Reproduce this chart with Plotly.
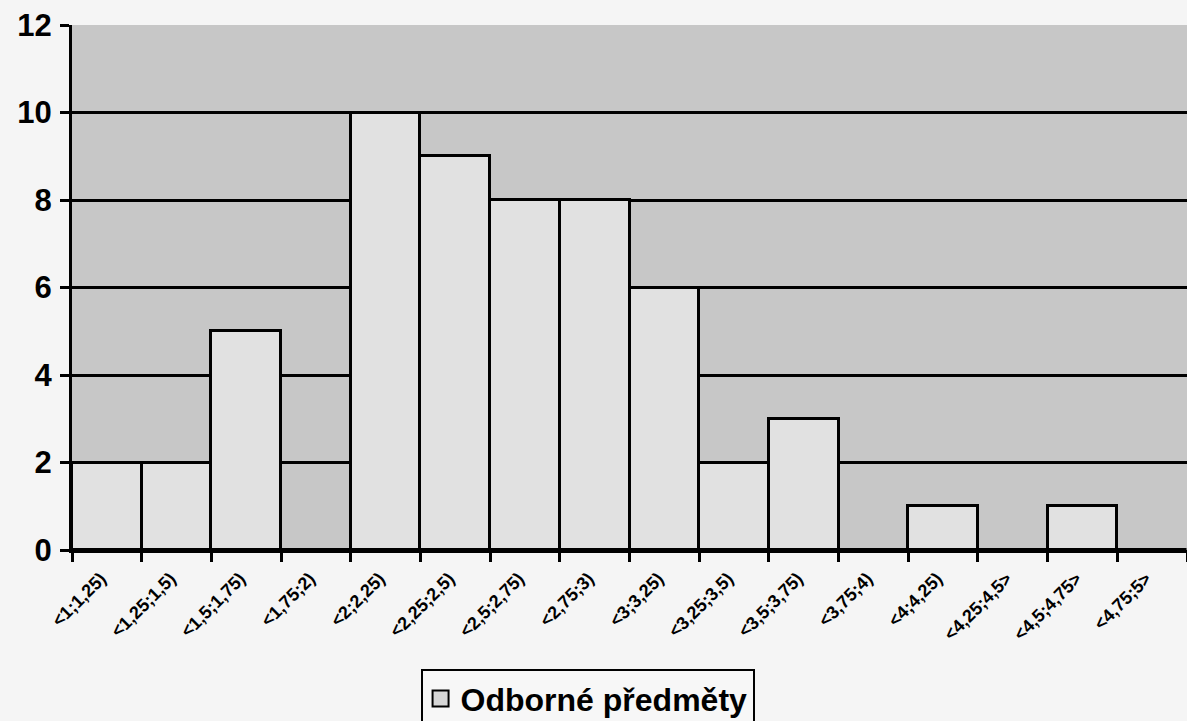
import plotly.graph_objects as go

# Grade intervals and the number of pupils in each
intervals = [
    "<1;1,25)", "<1,25;1,5)", "<1,5;1,75)", "<1,75;2)",
    "<2;2,25)", "<2,25;2,5)", "<2,5;2,75)", "<2,75;3)",
    "<3;3,25)", "<3,25;3,5)", "<3,5;3,75)", "<3,75;4)",
    "<4;4,25)", "<4,25;4,5>", "<4,5;4,75>", "<4,75;5>",
]
counts = [2, 2, 5, 0, 10, 9, 8, 8, 6, 2, 3, 0, 1, 0, 1, 0]
y_ticks = [0, 2, 4, 6, 8, 10, 12]
series_name = "Odborné předměty"

FONT = "Liberation Sans, Arial, sans-serif"
BAR_FILL = "#e1e1e1"

fig = go.Figure()

fig.add_trace(
    go.Bar(
        x=intervals,
        y=counts,
        name=series_name,
        legendgroup="s",
        marker=dict(color=BAR_FILL, line=dict(color="#000000", width=3)),
        showlegend=False,
    )
)

# Legend entry with a larger square key for the bar series
fig.add_trace(
    go.Scatter(
        x=[None],
        y=[None],
        mode="markers",
        name=series_name,
        legendgroup="s",
        marker=dict(symbol="square", size=16, color="#d6d6d6",
                    line=dict(color="#000000", width=2)),
        showlegend=True,
    )
)

fig.update_layout(
    width=1187,
    height=721,
    margin=dict(l=72, r=0, t=25, b=171),
    paper_bgcolor="#f5f5f5",
    plot_bgcolor="#c7c7c7",
    bargap=0,
    font=dict(family=FONT, color="#000000"),
    showlegend=True,
    legend=dict(
        xref="container",
        yref="container",
        x=0.495,
        y=0.072,
        xanchor="center",
        yanchor="top",
        orientation="h",
        bgcolor="#f7f7f7",
        bordercolor="#000000",
        borderwidth=2,
        itemwidth=30,
        font=dict(family=FONT, size=32, color="#000000", weight="bold"),
        itemsizing="trace",
    ),
)

fig.update_xaxes(
    type="category",
    categoryorder="array",
    categoryarray=intervals,
    showgrid=False,
    showline=True,
    linecolor="#000000",
    linewidth=3,
    ticks="outside",
    tickson="boundaries",
    ticklen=9,
    tickwidth=3,
    tickcolor="#000000",
    tickangle=-45,
    ticklabelstandoff=8,
    ticklabelshift=-6,
    tickfont=dict(family=FONT, size=18, color="#000000", weight="bold"),
)

fig.update_yaxes(
    range=[0, 12],
    tickvals=y_ticks,
    showgrid=True,
    gridcolor="#000000",
    gridwidth=3,
    zeroline=False,
    showline=True,
    linecolor="#000000",
    linewidth=3,
    ticks="outside",
    ticklen=9,
    tickwidth=3,
    tickcolor="#000000",
    ticklabelstandoff=2,
    tickfont=dict(family=FONT, size=31, color="#000000", weight="bold"),
)

fig.write_html("out.html")
